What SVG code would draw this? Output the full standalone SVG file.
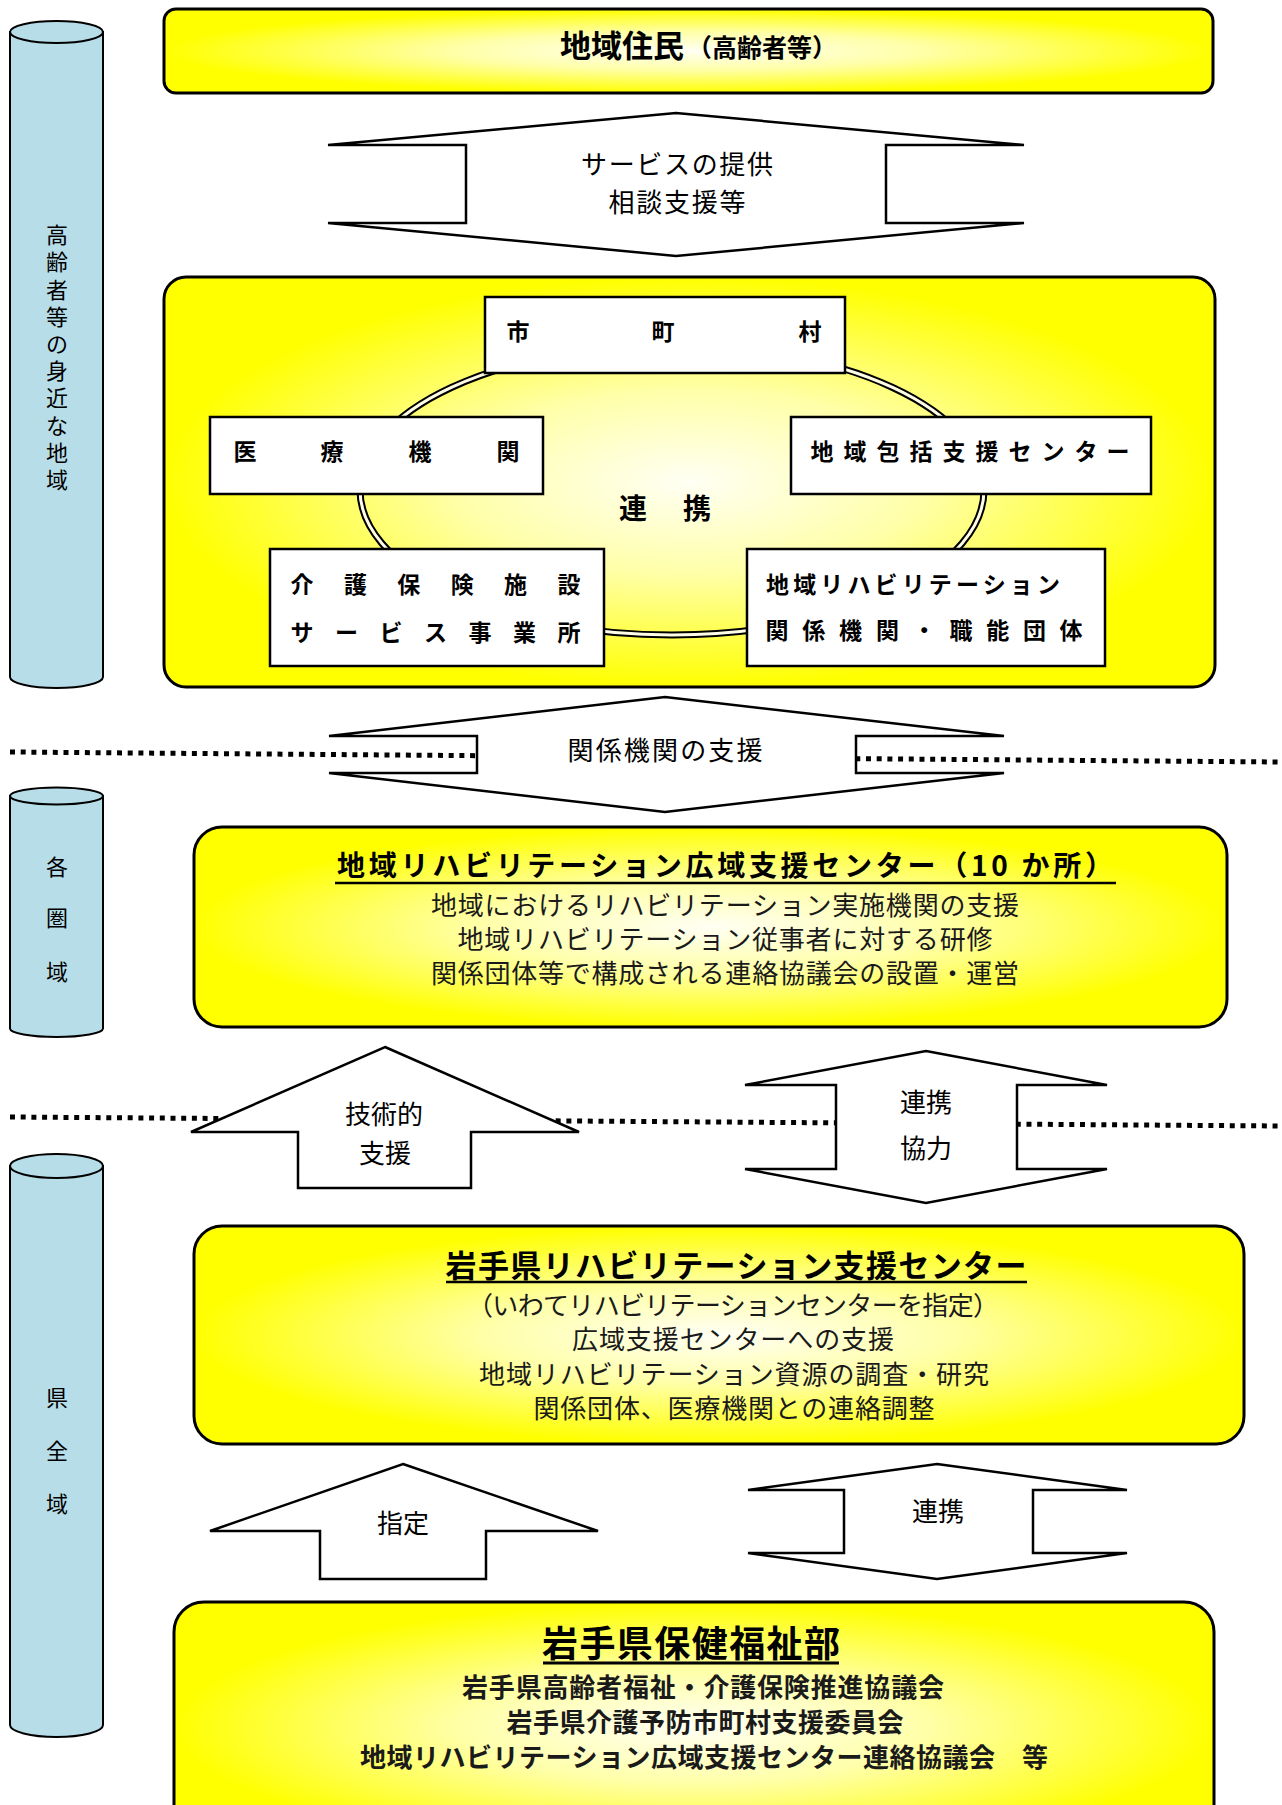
<svg xmlns="http://www.w3.org/2000/svg" width="1282" height="1805" viewBox="0 0 1282 1805">
<defs>
<radialGradient id="yg" cx="0.5" cy="0.5" r="0.5">
<stop offset="0" stop-color="#fffff4"/>
<stop offset="0.45" stop-color="#ffffa8"/>
<stop offset="1" stop-color="#ffff00"/>
</radialGradient>
<style>
text{font-family:"Noto Sans CJK JP","Noto Sans",sans-serif;fill:#000}
.box{fill:url(#yg);stroke:#000;stroke-width:3}
.cyl{fill:#b7dde8;stroke:#000;stroke-width:2}
.inner{fill:#fff;stroke:#000;stroke-width:2.5}
.arrow{fill:#fff;stroke:#000;stroke-width:2.5;stroke-linejoin:miter}
.dot{stroke:#000;stroke-width:5;stroke-dasharray:5 5.7;fill:none}
.ctext{font-size:22px;text-anchor:middle}
.lbl{font-size:23px;font-weight:700}
.atext{font-size:26px;text-anchor:middle}
.body{font-size:26px;text-anchor:middle;fill:#1a1a1a}
.ttl{font-weight:700;text-anchor:middle}
</style>
</defs>

<g id="cylinder-local">
<path class="cyl" d="M10,32 L10,677 A46.5,11 0 0 0 103,677 L103,32 Z"/>
<ellipse class="cyl" cx="56.5" cy="32" rx="46.5" ry="11"/>
<text class="ctext" x="57 57 57 57 57 57 57 57 57 57" y="243 270 298 325 352 379 406 434 461 488">高齢者等の身近な地域</text>
</g>
<g id="cylinder-area">
<path class="cyl" d="M10,796 L10,1028.5 A46.5,8.5 0 0 0 103,1028.5 L103,796 Z"/>
<ellipse class="cyl" cx="56.5" cy="796" rx="46.5" ry="8.5"/>
<text class="ctext" x="57 57 57" y="875 926 980">各圏域</text>
</g>
<g id="cylinder-pref">
<path class="cyl" d="M10,1166 L10,1725 A46.5,12 0 0 0 103,1725 L103,1166 Z"/>
<ellipse class="cyl" cx="56.5" cy="1166" rx="46.5" ry="12"/>
<text class="ctext" x="57 57 57" y="1406 1459 1512">県全域</text>
</g>

<g id="connectors">
<line class="dot" x1="10" y1="752" x2="1280" y2="762"/>
<line class="dot" x1="10" y1="1117" x2="1280" y2="1126"/>
<g id="arrow-service">
<polygon class="arrow" points="676,113 1024,145 886,145 886,223 1024,223 676,256 328,223 466,223 466,145 328,145"/>
<text class="atext" x="677" y="174" textLength="192">サービスの提供</text>
<text class="atext" x="677" y="212" textLength="137">相談支援等</text>
</g>
<g id="arrow-support">
<polygon class="arrow" points="665,697 1004,736 856,736 856,773 1004,773 665,812 329,773 477,773 477,736 329,736"/>
<text class="atext" x="665" y="760" textLength="195">関係機関の支援</text>
</g>
<g id="arrow-tech">
<polygon class="arrow" points="385,1047 579,1132 471,1132 471,1188 298,1188 298,1132 191,1132"/>
<text class="atext" x="384" y="1124">技術的</text>
<text class="atext" x="385" y="1163">支援</text>
</g>
<g id="arrow-coop1">
<polygon class="arrow" points="926,1051 1107,1085 1017,1085 1017,1169 1107,1169 926,1203 745,1169 836,1169 836,1085 745,1085"/>
<text class="atext" x="926" y="1112">連携</text>
<text class="atext" x="926" y="1158">協力</text>
</g>
<g id="arrow-designate">
<polygon class="arrow" points="403,1464 598,1531 486,1531 486,1579 320,1579 320,1531 210,1531"/>
<text class="atext" x="403" y="1533">指定</text>
</g>
<g id="arrow-coop2">
<polygon class="arrow" points="937,1464 1127,1490 1033,1490 1033,1553 1127,1553 937,1579 748,1553 844,1553 844,1490 748,1490"/>
<text class="atext" x="938" y="1521">連携</text>
</g>
</g>

<g id="residents">
<rect class="box" x="164" y="9" width="1049" height="84" rx="12"/>
<text x="560" y="57" font-weight="700"><tspan font-size="31">地域住民</tspan><tspan font-size="25" dx="3">（高齢者等）</tspan></text>
</g>

<g id="local-network">
<rect class="box" x="164" y="277" width="1051" height="410" rx="22"/>
<ellipse cx="672" cy="490" rx="312" ry="145" fill="none" stroke="#000" stroke-width="7"/>
<ellipse cx="672" cy="490" rx="312" ry="145" fill="none" stroke="#fffde6" stroke-width="3"/>
<text class="ttl" font-size="28" x="633 697" y="519 519">連携</text>
<g id="municipality">
<rect class="inner" x="485" y="297" width="360" height="76"/>
<text class="lbl" text-anchor="middle" x="518 663 810" y="340 340 340">市町村</text>
</g>
<g id="medical">
<rect class="inner" x="210" y="417" width="333" height="77"/>
<text class="lbl" text-anchor="middle" x="245 332 420 508" y="460 460 460 460">医療機関</text>
</g>
<g id="comprehensive-center">
<rect class="inner" x="791" y="417" width="360" height="77"/>
<text class="lbl" text-anchor="middle" x="822 855 888 921 954 987 1020 1053 1086 1118" y="460 460 460 460 460 460 460 460 460 460">地域包括支援センター</text>
</g>
<g id="care-facility">
<rect class="inner" x="270" y="549" width="334" height="117"/>
<text class="lbl" text-anchor="middle" x="302 355.4 408.8 462.2 515.6 569" y="593 593 593 593 593 593">介護保険施設</text>
<text class="lbl" text-anchor="middle" x="302 346.5 391 435.5 480 524.5 569" y="641 641 641 641 641 641 641">サービス事業所</text>
</g>
<g id="rehab-org">
<rect class="inner" x="747" y="549" width="358" height="117"/>
<text class="lbl" x="766" y="593" textLength="294">地域リハビリテーション</text>
<text class="lbl" text-anchor="middle" x="777 813.8 850.6 887.4 924.2 961 997.8 1034.6 1071" y="639 639 639 639 639 639 639 639 639">関係機関・職能団体</text>
</g>
</g>

<g id="regional-center">
<rect class="box" x="194" y="827" width="1033" height="200" rx="28"/>
<text class="ttl" font-size="28" x="725" y="876" textLength="776">地域リハビリテーション広域支援センター（10 か所）</text>
<line x1="335" y1="883" x2="1116" y2="883" stroke="#000" stroke-width="2.5"/>
<text class="body" x="725" y="915" textLength="588">地域におけるリハビリテーション実施機関の支援</text>
<text class="body" x="725" y="949" textLength="535">地域リハビリテーション従事者に対する研修</text>
<text class="body" x="725" y="983" textLength="588">関係団体等で構成される連絡協議会の設置・運営</text>
</g>

<g id="pref-center">
<rect class="box" x="194" y="1226" width="1050" height="218" rx="28"/>
<text class="ttl" font-size="31" x="736" y="1277" textLength="581">岩手県リハビリテーション支援センター</text>
<line x1="446" y1="1282" x2="1027" y2="1282" stroke="#000" stroke-width="2.5"/>
<text class="body" x="733" y="1315" textLength="532">（いわてリハビリテーションセンターを指定）</text>
<text class="body" x="733" y="1349" textLength="322">広域支援センターへの支援</text>
<text class="body" x="734" y="1384" textLength="510">地域リハビリテーション資源の調査・研究</text>
<text class="body" x="734" y="1418" textLength="401">関係団体、医療機関との連絡調整</text>
</g>

<g id="pref-dept">
<rect class="box" x="174" y="1602" width="1040" height="250" rx="30"/>
<text class="ttl" font-size="36" x="691" y="1657" textLength="298">岩手県保健福祉部</text>
<line x1="543" y1="1663" x2="839" y2="1663" stroke="#000" stroke-width="3"/>
<text class="body" font-weight="700" x="703" y="1697" textLength="482">岩手県高齢者福祉・介護保険推進協議会</text>
<text class="body" font-weight="700" x="705" y="1732" textLength="397">岩手県介護予防市町村支援委員会</text>
<text class="body" font-weight="700" x="704" y="1767" textLength="688">地域リハビリテーション広域支援センター連絡協議会　等</text>
</g>
</svg>
